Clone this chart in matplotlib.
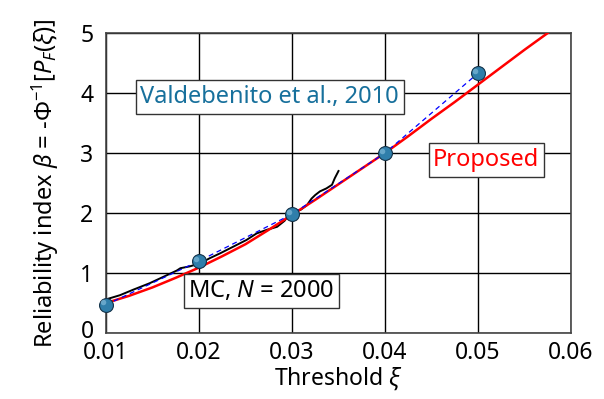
import numpy as np
import matplotlib
matplotlib.use("Agg")
import matplotlib.pyplot as plt
from matplotlib.transforms import ScaledTranslation

plt.rcParams['font.family'] = ['Noto Sans', 'DejaVu Sans']
plt.rcParams['mathtext.fontset'] = 'custom'
plt.rcParams['mathtext.rm'] = 'Noto Sans'
plt.rcParams['mathtext.it'] = 'Noto Sans:italic'

# Valdebenito et al. (2010) estimates
xi_ref = [0.01, 0.02, 0.03, 0.04, 0.05]
beta_ref = [0.47, 1.20, 1.98, 3.00, 4.33]

# proposed method
xi_prop = [0.010, 0.0125, 0.015, 0.0175, 0.020, 0.0225, 0.025, 0.0275, 0.030,
           0.0325, 0.035, 0.0375, 0.040, 0.0425, 0.045, 0.0475, 0.050,
           0.0525, 0.055, 0.0575]
beta_prop = [0.50, 0.62, 0.76, 0.92, 1.09, 1.28, 1.48, 1.72, 1.97,
             2.22, 2.48, 2.74, 3.00, 3.28, 3.57, 3.85, 4.14,
             4.43, 4.72, 5.00]

# Monte Carlo, N = 2000
xi_mc = [0.0100, 0.0115, 0.0129, 0.0147, 0.0165, 0.0176, 0.0180, 0.0190,
         0.0201, 0.0212, 0.0223, 0.0237, 0.0251, 0.0262, 0.0273, 0.0284,
         0.0292, 0.0296, 0.0300, 0.0309, 0.0316, 0.0321, 0.0325, 0.0330,
         0.0337, 0.0343, 0.0346, 0.0350]
beta_mc = [0.56, 0.63, 0.72, 0.83, 0.96, 1.04, 1.08, 1.11,
           1.16, 1.25, 1.33, 1.44, 1.55, 1.66, 1.72, 1.77,
           1.87, 1.96, 2.02, 2.05, 2.13, 2.24, 2.30, 2.36,
           2.41, 2.47, 2.58, 2.70]

fig = plt.figure(figsize=(6.04, 3.99), dpi=100)
ax = fig.add_axes([106 / 604, 66 / 399, 465 / 604, 300 / 399])

ax.plot(xi_mc, beta_mc, color='black', lw=1.4, zorder=3)
ax.plot(xi_prop, beta_prop, color='red', lw=1.8, zorder=4)
ax.plot(xi_ref, beta_ref, color='blue', lw=0.9, ls=(0, (4, 3)), zorder=5)
ax.plot(xi_ref, beta_ref, 'o', ms=10, mfc='#2f7eaa', mec='#14334a',
        mew=0.8, zorder=6, clip_on=False)
# small highlight for the shaded look of the markers
ax.plot(np.array(xi_ref) - 0.0003, np.array(beta_ref) + 0.04, 'o', ms=4,
        mfc='#8ec3e0', mec='none', alpha=0.6, zorder=7, clip_on=False)

ax.set_xlim(0.01, 0.06)
ax.set_ylim(0, 5)
ax.set_xticks([0.01, 0.02, 0.03, 0.04, 0.05, 0.06])
ax.set_xticklabels(['0.01', '0.02', '0.03', '0.04', '0.05', '0.06'])
ax.set_yticks([0, 1, 2, 3, 4, 5])
ax.tick_params(length=0, labelsize=16.5)
ax.tick_params(axis='x', pad=6)
ax.tick_params(axis='y', pad=9)
ax.grid(True, color='black', lw=1)
ax.set_axisbelow(True)
for s in ax.spines.values():
    s.set_color('#444444')
    s.set_linewidth(1.2)

# nudge the "0" label up so it clears "0.01"
lbl0 = ax.yaxis.get_major_ticks()[0].label1
lbl0.set_transform(lbl0.get_transform()
                   + ScaledTranslation(0, 3 / 72, fig.dpi_scale_trans))

ax.set_xlabel(r'Threshold $\xi$', fontsize=16.5, labelpad=0)
ax.set_ylabel(r'Reliability index $\beta$ = -$\Phi^{-1}$[$P_F$($\xi$)]',
              fontsize=17, labelpad=14)

box = dict(boxstyle='square,pad=0.2', fc='white', ec='#333333', lw=1)
ax.text(0.0276, 3.93, 'Valdebenito et al., 2010', color='#17709c',
        fontsize=17, ha='center', va='center', bbox=box, zorder=8)
ax.text(0.0509, 2.88, 'Proposed', color='red', fontsize=17,
        ha='center', va='center', bbox=box, zorder=8)
ax.text(0.0267, 0.70, r'MC, $N$ = 2000', color='black', fontsize=17,
        ha='center', va='center', bbox=box, zorder=8)

fig.savefig('out.png', dpi=100)
